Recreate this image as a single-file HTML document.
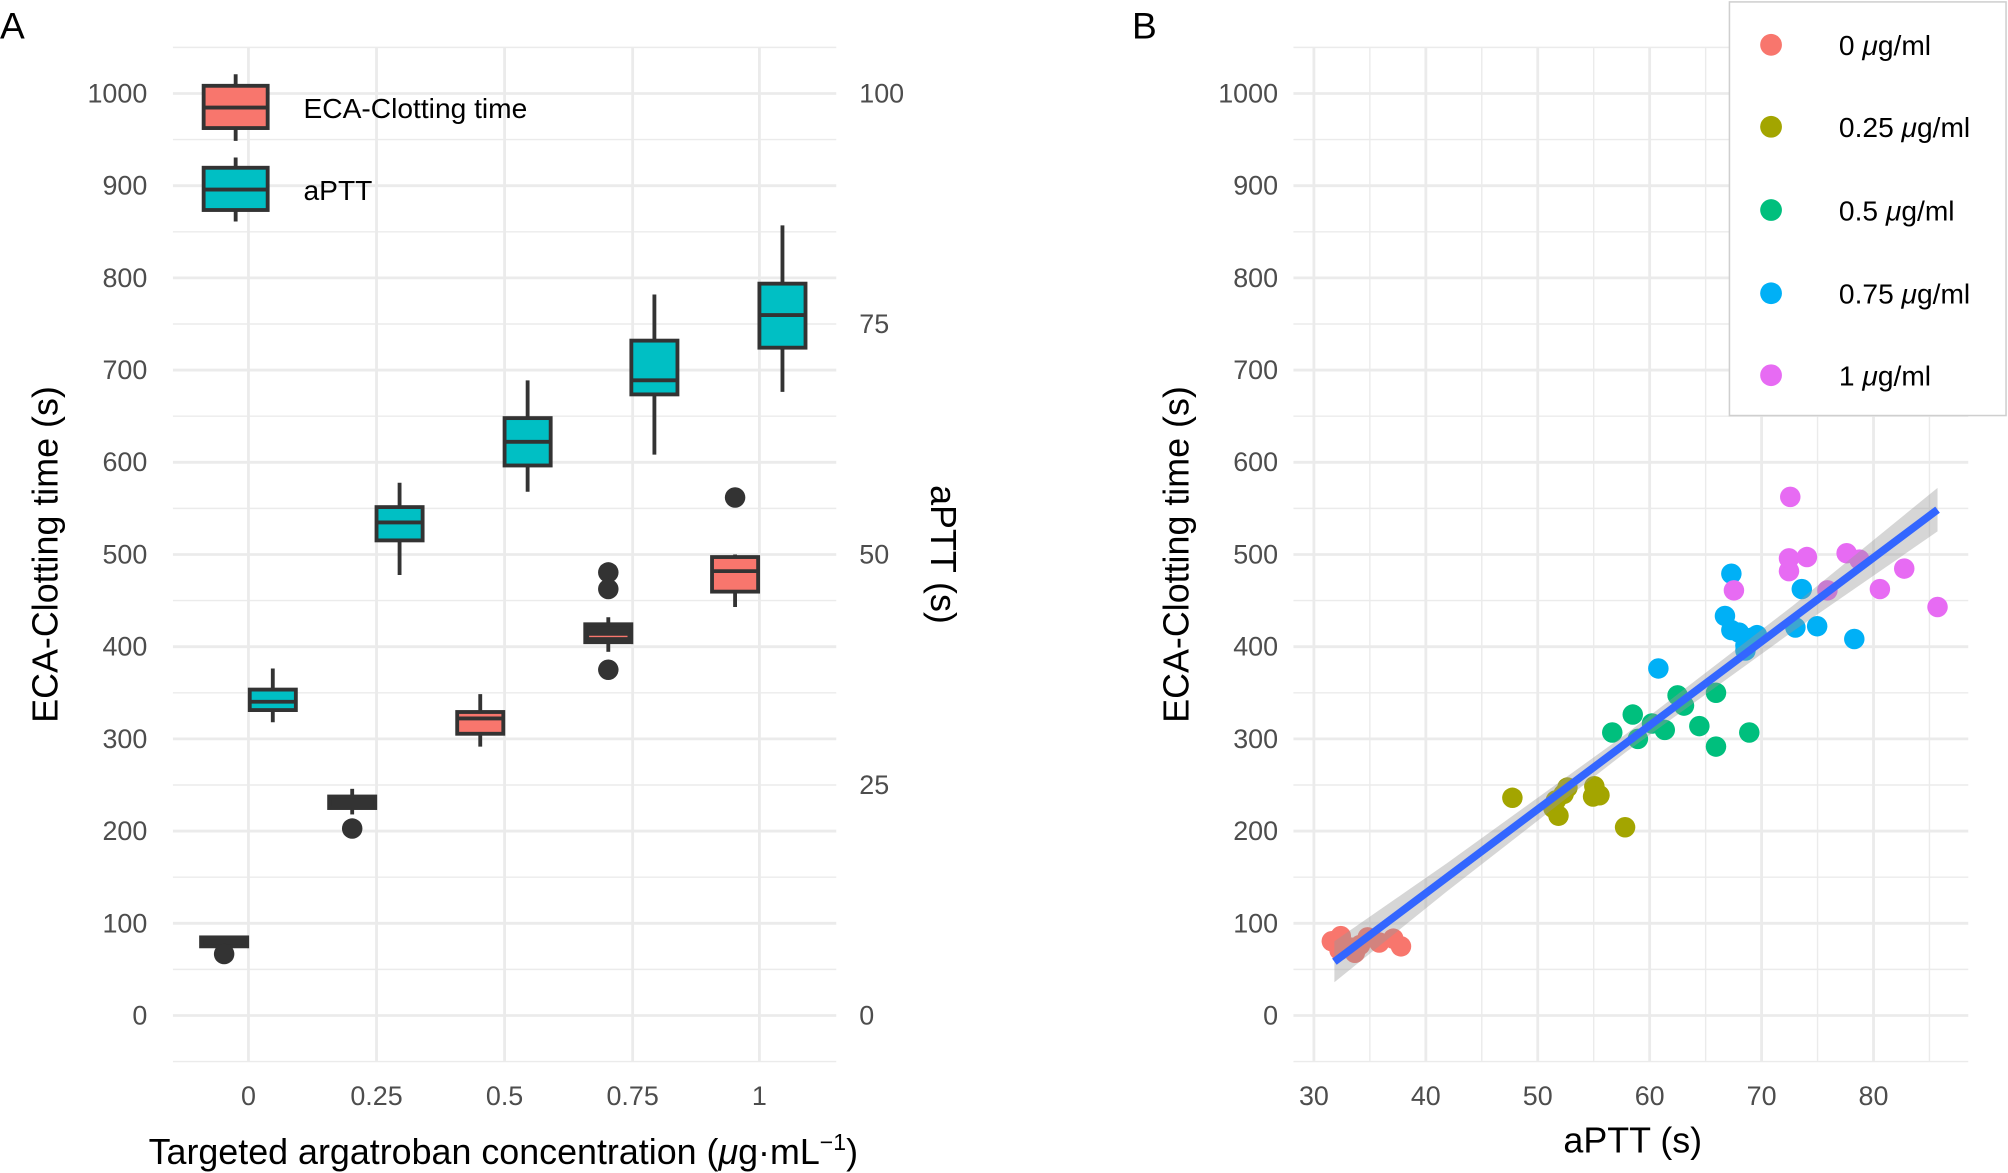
<!DOCTYPE html>
<html><head><meta charset="utf-8"><style>
html,body{margin:0;padding:0;background:#fff;}
svg{display:block;font-family:"Liberation Sans",sans-serif;}
.t{fill:#4d4d4d;font-size:21px;}
.ti{fill:#000;font-size:28px;}
.mj{stroke:#ebebeb;stroke-width:2.2;}
.mn{stroke:#ebebeb;stroke-width:1.1;}
.bx{stroke:#333;stroke-width:3;}
</style></head><body>
<svg width="2008" height="1173" viewBox="0 0 1568 916" xmlns="http://www.w3.org/2000/svg">
<rect width="1568" height="916" fill="#fff"/>
<g>
<g class="mn">
<line x1="135" x2="653" y1="829" y2="829"/><line x1="135" x2="653" y1="757" y2="757"/><line x1="135" x2="653" y1="685" y2="685"/><line x1="135" x2="653" y1="613" y2="613"/><line x1="135" x2="653" y1="541" y2="541"/><line x1="135" x2="653" y1="469" y2="469"/><line x1="135" x2="653" y1="397" y2="397"/><line x1="135" x2="653" y1="325" y2="325"/><line x1="135" x2="653" y1="253" y2="253"/><line x1="135" x2="653" y1="181" y2="181"/><line x1="135" x2="653" y1="109" y2="109"/><line x1="135" x2="653" y1="37" y2="37"/>
</g>
<g class="mj">
<line x1="135" x2="653" y1="793" y2="793"/><line x1="135" x2="653" y1="721" y2="721"/><line x1="135" x2="653" y1="649" y2="649"/><line x1="135" x2="653" y1="577" y2="577"/><line x1="135" x2="653" y1="505" y2="505"/><line x1="135" x2="653" y1="433" y2="433"/><line x1="135" x2="653" y1="361" y2="361"/><line x1="135" x2="653" y1="289" y2="289"/><line x1="135" x2="653" y1="217" y2="217"/><line x1="135" x2="653" y1="145" y2="145"/><line x1="135" x2="653" y1="73" y2="73"/>
<line x1="194" x2="194" y1="37" y2="829"/><line x1="294" x2="294" y1="37" y2="829"/><line x1="394" x2="394" y1="37" y2="829"/><line x1="494" x2="494" y1="37" y2="829"/><line x1="593" x2="593" y1="37" y2="829"/>
</g>
</g>
<g class="bx" fill="#333">
<rect x="157" y="732" width="36" height="7" fill="#333"/>
<circle cx="175" cy="745" r="8" stroke="none"/>
<line x1="275" x2="275" y1="616" y2="636"/>
<rect x="257" y="622" width="36" height="9" fill="#333"/>
<circle cx="275" cy="647" r="8" stroke="none"/>
<line x1="375" x2="375" y1="542" y2="583"/>
<rect x="357" y="556" width="36" height="17" fill="#F8766D"/>
<line x1="357" x2="393" y1="561" y2="561"/>
<line x1="475" x2="475" y1="482" y2="509"/>
<rect x="457" y="487.5" width="36" height="14" fill="#333"/>
<line x1="460" x2="490" y1="497" y2="497" stroke="#F8766D" stroke-width="1"/>
<circle cx="475" cy="447" r="8" stroke="none"/><circle cx="475" cy="460" r="8" stroke="none"/><circle cx="475" cy="523" r="8" stroke="none"/>
<line x1="574" x2="574" y1="433" y2="474"/>
<rect x="556" y="435" width="36" height="27" fill="#F8766D"/>
<line x1="556" x2="592" y1="446" y2="446"/>
<circle cx="574" cy="388.5" r="8" stroke="none"/>
<line x1="213" x2="213" y1="522" y2="564"/>
<rect x="195" y="538.5" width="36" height="16" fill="#00BFC4"/>
<line x1="195" x2="231" y1="548" y2="548"/>
<line x1="312" x2="312" y1="377" y2="449"/>
<rect x="294" y="396" width="36" height="26" fill="#00BFC4"/>
<line x1="294" x2="330" y1="408" y2="408"/>
<line x1="412" x2="412" y1="297" y2="384"/>
<rect x="394" y="326.5" width="36" height="37" fill="#00BFC4"/>
<line x1="394" x2="430" y1="345" y2="345"/>
<line x1="511" x2="511" y1="230" y2="355"/>
<rect x="493" y="266" width="36" height="42" fill="#00BFC4"/>
<line x1="493" x2="529" y1="297" y2="297"/>
<line x1="611" x2="611" y1="176" y2="306"/>
<rect x="593" y="221.5" width="36" height="50" fill="#00BFC4"/>
<line x1="593" x2="629" y1="246" y2="246"/>
<line x1="184" x2="184" y1="58" y2="110"/>
<rect x="159" y="67" width="50" height="33" fill="#F8766D"/>
<line x1="159" x2="209" y1="84" y2="84"/>
<line x1="184" x2="184" y1="123" y2="173"/>
<rect x="159" y="131" width="50" height="33" fill="#00BFC4"/>
<line x1="159" x2="209" y1="148" y2="148"/>
</g>
<text x="237" y="92" class="ti" style="font-size:22px">ECA-Clotting time</text>
<text x="237" y="156" class="ti" style="font-size:22px">aPTT</text>
<g class="t" text-anchor="end">
<text x="115" y="800">0</text><text x="115" y="728">100</text><text x="115" y="656">200</text><text x="115" y="584">300</text><text x="115" y="512">400</text><text x="115" y="440">500</text><text x="115" y="368">600</text><text x="115" y="296">700</text><text x="115" y="224">800</text><text x="115" y="152">900</text><text x="115" y="80">1000</text>
</g>
<g class="t">
<text x="671" y="800">0</text><text x="671" y="620">25</text><text x="671" y="440">50</text><text x="671" y="260">75</text><text x="671" y="80">100</text>
</g>
<g class="t" text-anchor="middle">
<text x="194" y="863">0</text><text x="294" y="863">0.25</text><text x="394" y="863">0.5</text><text x="494" y="863">0.75</text><text x="593" y="863">1</text>
</g>
<text class="ti" transform="translate(45,433) rotate(-90)" text-anchor="middle">ECA-Clotting time (s)</text>
<text class="ti" transform="translate(727,433) rotate(90)" text-anchor="middle">aPTT (s)</text>
<text class="ti" x="393" y="909" text-anchor="middle">Targeted argatroban concentration (<tspan font-style="italic">μ</tspan>g·mL<tspan dy="-11" font-size="18">−1</tspan><tspan dy="11">)</tspan></text>
<text x="0" y="30" style="font-size:29px">A</text>
<text x="884" y="30" style="font-size:29px">B</text>

<g class="mn">
<line x1="1010" x2="1537" y1="829" y2="829"/><line x1="1010" x2="1537" y1="757" y2="757"/><line x1="1010" x2="1537" y1="685" y2="685"/><line x1="1010" x2="1537" y1="613" y2="613"/><line x1="1010" x2="1537" y1="541" y2="541"/><line x1="1010" x2="1537" y1="469" y2="469"/><line x1="1010" x2="1537" y1="397" y2="397"/><line x1="1010" x2="1537" y1="325" y2="325"/><line x1="1010" x2="1537" y1="253" y2="253"/><line x1="1010" x2="1537" y1="181" y2="181"/><line x1="1010" x2="1537" y1="109" y2="109"/><line x1="1010" x2="1537" y1="37" y2="37"/>
<line x1="1069.7" x2="1069.7" y1="37" y2="829"/><line x1="1157.1" x2="1157.1" y1="37" y2="829"/><line x1="1244.5" x2="1244.5" y1="37" y2="829"/><line x1="1331.9" x2="1331.9" y1="37" y2="829"/><line x1="1419.3" x2="1419.3" y1="37" y2="829"/><line x1="1506.7" x2="1506.7" y1="37" y2="829"/>
</g>
<g class="mj">
<line x1="1010" x2="1537" y1="793" y2="793"/><line x1="1010" x2="1537" y1="721" y2="721"/><line x1="1010" x2="1537" y1="649" y2="649"/><line x1="1010" x2="1537" y1="577" y2="577"/><line x1="1010" x2="1537" y1="505" y2="505"/><line x1="1010" x2="1537" y1="433" y2="433"/><line x1="1010" x2="1537" y1="361" y2="361"/><line x1="1010" x2="1537" y1="289" y2="289"/><line x1="1010" x2="1537" y1="217" y2="217"/><line x1="1010" x2="1537" y1="145" y2="145"/><line x1="1010" x2="1537" y1="73" y2="73"/>
<line x1="1026" x2="1026" y1="37" y2="829"/><line x1="1113.4" x2="1113.4" y1="37" y2="829"/><line x1="1200.8" x2="1200.8" y1="37" y2="829"/><line x1="1288.2" x2="1288.2" y1="37" y2="829"/><line x1="1375.6" x2="1375.6" y1="37" y2="829"/><line x1="1463" x2="1463" y1="37" y2="829"/>
</g>
<g fill="#F8766D">
<circle cx="1040" cy="735" r="8"/><circle cx="1047" cy="731" r="8"/><circle cx="1058" cy="744" r="8"/><circle cx="1062" cy="738" r="8"/><circle cx="1068" cy="732" r="8"/><circle cx="1077" cy="736" r="8"/><circle cx="1088" cy="733" r="8"/><circle cx="1094" cy="739" r="8"/><circle cx="1046" cy="742" r="8"/><circle cx="1055" cy="740" r="8"/>
</g>
<g fill="#A3A500">
<circle cx="1181" cy="623" r="8"/><circle cx="1213" cy="631" r="8"/><circle cx="1217" cy="637" r="8"/><circle cx="1221" cy="620" r="8"/><circle cx="1224" cy="615" r="8"/><circle cx="1245" cy="614" r="8"/><circle cx="1249" cy="621" r="8"/><circle cx="1244" cy="622" r="8"/><circle cx="1269" cy="646" r="8"/><circle cx="1215" cy="625" r="8"/>
</g>
<g fill="#00BF7D">
<circle cx="1259" cy="572" r="8"/><circle cx="1275" cy="558" r="8"/><circle cx="1279" cy="577" r="8"/><circle cx="1290" cy="565" r="8"/><circle cx="1300" cy="570" r="8"/><circle cx="1310" cy="543" r="8"/><circle cx="1315" cy="551" r="8"/><circle cx="1327" cy="567" r="8"/><circle cx="1340" cy="541" r="8"/><circle cx="1340" cy="583" r="8"/><circle cx="1366" cy="572" r="8"/>
</g>
<g fill="#00B0F6">
<circle cx="1295" cy="522" r="8"/><circle cx="1347" cy="481" r="8"/><circle cx="1352" cy="492" r="8"/><circle cx="1352" cy="448" r="8"/><circle cx="1358" cy="494" r="8"/><circle cx="1363" cy="504" r="8"/><circle cx="1368" cy="498" r="8"/><circle cx="1372" cy="496" r="8"/><circle cx="1407" cy="460" r="8"/><circle cx="1402" cy="490" r="8"/><circle cx="1419" cy="489" r="8"/><circle cx="1448" cy="499" r="8"/><circle cx="1363" cy="508" r="8"/>
</g>
<g fill="#E76BF3">
<circle cx="1354" cy="461" r="8"/><circle cx="1398" cy="388" r="8"/><circle cx="1397" cy="446" r="8"/><circle cx="1397" cy="436" r="8"/><circle cx="1411" cy="435" r="8"/><circle cx="1442" cy="432" r="8"/><circle cx="1452" cy="437" r="8"/><circle cx="1427" cy="461" r="8"/><circle cx="1468" cy="460" r="8"/><circle cx="1487" cy="444" r="8"/><circle cx="1513" cy="474" r="8"/>
</g>
<polygon points="1042,735 1130,674 1270,573 1400,473 1513,381 1513,415 1400,493 1270,587 1130,696 1042,767" fill="#999" fill-opacity="0.4"/>
<line x1="1042" y1="751" x2="1513" y2="398" stroke="#3366FF" stroke-width="6"/>
<g class="t" text-anchor="end">
<text x="998" y="800">0</text><text x="998" y="728">100</text><text x="998" y="656">200</text><text x="998" y="584">300</text><text x="998" y="512">400</text><text x="998" y="440">500</text><text x="998" y="368">600</text><text x="998" y="296">700</text><text x="998" y="224">800</text><text x="998" y="152">900</text><text x="998" y="80">1000</text>
</g>
<g class="t" text-anchor="middle">
<text x="1026" y="863">30</text><text x="1113.4" y="863">40</text><text x="1200.8" y="863">50</text><text x="1288.2" y="863">60</text><text x="1375.6" y="863">70</text><text x="1463" y="863">80</text>
</g>
<text class="ti" transform="translate(928,433) rotate(-90)" text-anchor="middle">ECA-Clotting time (s)</text>
<text class="ti" x="1275" y="900" text-anchor="middle">aPTT (s)</text>
<rect x="1350.5" y="1.5" width="216" height="323" fill="#fff" stroke="#cfcfcf" stroke-width="1.2"/>
<circle cx="1383" cy="35" r="8.5" fill="#F8766D"/>
<circle cx="1383" cy="99" r="8.5" fill="#A3A500"/>
<circle cx="1383" cy="164" r="8.5" fill="#00BF7D"/>
<circle cx="1383" cy="229" r="8.5" fill="#00B0F6"/>
<circle cx="1383" cy="293" r="8.5" fill="#E76BF3"/>
<g style="font-size:22px" fill="#000">
<text x="1436" y="43">0 <tspan font-style="italic">μ</tspan>g/ml</text>
<text x="1436" y="107">0.25 <tspan font-style="italic">μ</tspan>g/ml</text>
<text x="1436" y="172">0.5 <tspan font-style="italic">μ</tspan>g/ml</text>
<text x="1436" y="237">0.75 <tspan font-style="italic">μ</tspan>g/ml</text>
<text x="1436" y="301">1 <tspan font-style="italic">μ</tspan>g/ml</text>
</g>
</svg>
</body></html>
